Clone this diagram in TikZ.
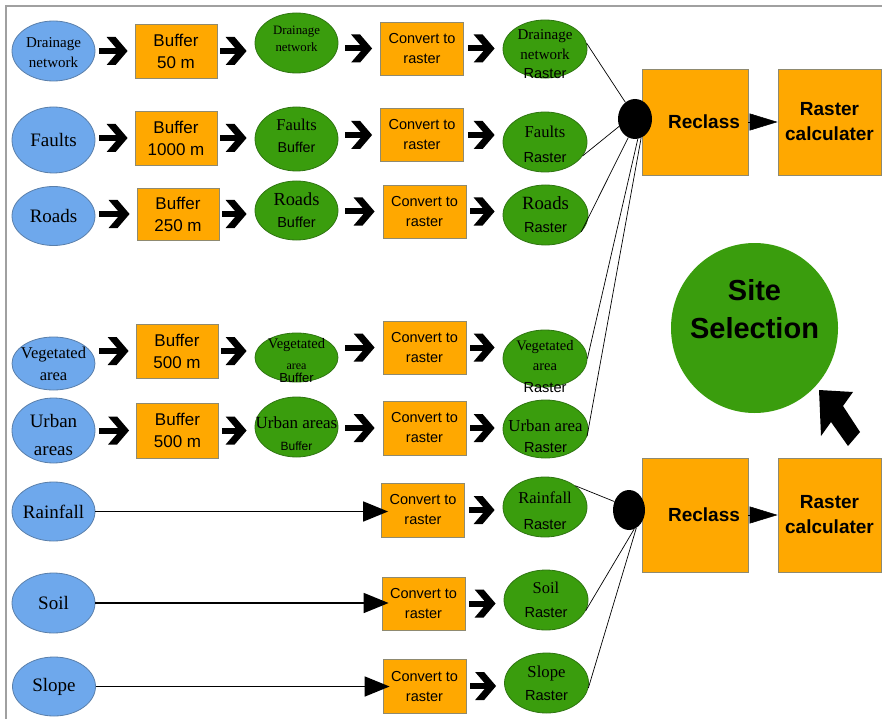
\documentclass[tikz,border=0pt]{standalone}
\usepackage{fontspec}
\setmainfont{Liberation Serif}
\setsansfont{Liberation Sans}
\usetikzlibrary{shapes.geometric,arrows.meta,calc}
\definecolor{bfill}{HTML}{6EA8EC}
\definecolor{bdraw}{HTML}{5A7FAA}
\definecolor{ofill}{HTML}{FFA800}
\definecolor{odraw}{HTML}{8F8A70}
\definecolor{gfill}{HTML}{3A9D0D}
\definecolor{gdraw}{HTML}{2F7512}
\definecolor{framecol}{HTML}{A0A0A0}
\newcommand\fs[2]{\fontsize{#1pt}{#2pt}\selectfont}
\begin{document}
\begin{tikzpicture}[x=1pt,y=-1pt,
 bell/.style={ellipse, draw=bdraw, line width=0.8pt, fill=bfill, minimum width=83pt, minimum height=60pt, inner sep=0pt},
 gell/.style={ellipse, draw=gdraw, line width=0.8pt, fill=gfill, minimum width=83pt, minimum height=60pt, inner sep=0pt},
 obox/.style={rectangle, draw=odraw, line width=0.8pt, fill=ofill, minimum width=82pt, minimum height=54pt, inner sep=0pt, align=center, font=\sffamily\fs{17}{22}},
 cbox/.style={obox, minimum width=83pt, minimum height=53pt, font=\sffamily\fs{14.5}{20}},
 bigbox/.style={rectangle, draw=odraw, line width=0.8pt, fill=ofill, inner sep=0pt, align=center, font=\sffamily\bfseries\fs{19}{25}},
 dot/.style={ellipse, fill=black, inner sep=0pt},
 txt/.style={align=center, inner sep=0pt, font=\rmfamily\fs{19}{22}},
 fat/.style={line width=6pt},
 chev/.pic={\fill (9,0) -- (-3,-14) -- (-12,-14) -- (0,0) -- (-12,14) -- (-3,14) -- cycle;},
 longarrow/.style={line width=1.6pt, -{Triangle[length=25pt,width=20pt]}},
 tri/.style={line width=0.5pt, -{Triangle[length=28pt,width=17pt]}},
 link/.style={line width=0.7pt},
]
\useasboundingbox (0,0) rectangle (882,719);
\draw[framecol, line width=1.5pt] (6,719) -- (6,6) -- (882,6);

% Row 1
\node[bell,label={[txt,yshift=-2pt,font=\rmfamily\fs{15}{20}]center:{Drainage\\network}}] (b1) at (53.5,51) {};
\node[obox] (k1) at (176,51) {Buffer\\50 m};
\node[gell,label={[txt,yshift=4.5pt,font=\rmfamily\fs{12.8}{17}]center:{Drainage\\network}}] (g1) at (296.5,43) {};
\node[cbox] (c1) at (422,48.5) {Convert to\\raster};
\node[gell,minimum width=84pt,minimum height=58pt,label={[txt,yshift=-5.5pt,font=\rmfamily\fs{15}{19.5}]center:{Drainage\\network\\{\sffamily\fs{14.6}{19.5}Raster}}}] (r1) at (545,49) {};

% Row 2
\node[bell,minimum height=66pt,label={[txt]center:{Faults}}] (b2) at (53.5,140) {};
\node[obox] (k2) at (176,138) {Buffer\\1000 m};
\node[gell,minimum height=64pt,label={[txt,yshift=3pt,font=\rmfamily\fs{16.5}{22}]center:{Faults\\{\sffamily\fs{14.3}{22}Buffer}}}] (g2) at (296.5,139) {};
\node[cbox] (c2) at (422,135) {Convert to\\raster};
\node[gell,minimum width=84pt,label={[txt,yshift=-2.5pt,font=\rmfamily\fs{16.6}{25}]center:{Faults\\{\sffamily\fs{14.6}{25}Raster}}}] (r2) at (545,142) {};

% Row 3
\node[bell,minimum height=59pt,label={[txt]center:{Roads}}] (b3) at (53.5,216) {};
\node[obox,minimum height=52pt] (k3) at (178,214) {Buffer\\250 m};
\node[gell,minimum height=59pt,label={[txt,font=\rmfamily\fs{18.4}{22}]center:{Roads\\{\sffamily\fs{14.5}{22}Buffer}}}] (g3) at (296.5,210.5) {};
\node[cbox] (c3) at (424.5,211.5) {Convert to\\raster};
\node[gell,minimum width=85pt,label={[txt,font=\rmfamily\fs{18.7}{23}]center:{Roads\\{\sffamily\fs{14.6}{23}Raster}}}] (r3) at (545.5,215) {};

% Row 4
\node[bell,minimum height=53pt,label={[txt,font=\rmfamily\fs{16.5}{22}]center:{Vegetated\\area}}] (b4) at (53.5,363.5) {};
\node[obox] (k4) at (177,351) {Buffer\\500 m};
\node[gell,minimum height=49pt,label={[txt,yshift=-3pt,font=\rmfamily\fs{14.5}{13}]center:{Vegetated\\[8pt]{\fs{12}{13}area}\\{\sffamily\fs{13}{13}Buffer}}}] (g4) at (296.5,357.5) {};
\node[cbox] (c4) at (424.5,347.5) {Convert to\\raster};
\node[gell,minimum width=84pt,minimum height=57pt,label={[txt,yshift=-8pt,font=\rmfamily\fs{14.5}{20}]center:{Vegetated\\area\\[2pt]{\sffamily\fs{14.6}{20}Raster}}}] (r4) at (545,358.5) {};

% Row 5
\node[bell,minimum height=65pt,label={[txt,yshift=-4pt,font=\rmfamily\fs{19}{28}]center:{Urban\\areas}}] (b5) at (53.5,430.5) {};
\node[obox,minimum height=55pt] (k5) at (177.5,430.5) {Buffer\\500 m};
\node[gell,label={[txt,yshift=-7pt,font=\rmfamily\fs{17}{22}]center:{Urban areas\\{\sffamily\fs{12}{22}Buffer}}}] (g5) at (296.5,427) {};
\node[cbox,minimum height=54pt] (c5) at (424.5,428) {Convert to\\raster};
\node[gell,minimum width=85pt,minimum height=58pt,label={[txt,yshift=-7.5pt,font=\rmfamily\fs{16.8}{21}]center:{Urban area\\{\sffamily\fs{14.6}{21}Raster}}}] (r5) at (545.5,429) {};

% Row 6
\node[bell,minimum height=59pt,label={[txt]center:{Rainfall}}] (b6) at (53.5,511.5) {};
\node[cbox,minimum height=54pt] (c6) at (423,510) {Convert to\\raster};
\node[gell,minimum width=84pt,label={[txt,yshift=-4pt,font=\rmfamily\fs{16.6}{26}]center:{Rainfall\\{\sffamily\fs{14.6}{26}Raster}}}] (r6) at (545,507) {};

% Row 7
\node[bell,label={[txt]center:{Soil}}] (b7) at (53.5,603) {};
\node[cbox] (c7) at (423.5,603.5) {Convert to\\raster};
\node[gell,minimum width=84pt,label={[txt,font=\rmfamily\fs{16.5}{24}]center:{Soil\\{\sffamily\fs{14.6}{24}Raster}}}] (r7) at (546,600) {};

% Row 8
\node[bell,minimum height=59pt,label={[txt]center:{Slope}}] (b8) at (54,686.5) {};
\node[cbox,minimum height=54pt] (c8) at (424.5,686) {Convert to\\raster};
\node[gell,minimum width=84pt,label={[txt,font=\rmfamily\fs{16.7}{23}]center:{Slope\\{\sffamily\fs{14.6}{23}Raster}}}] (r8) at (546.5,683) {};

% Right side
\node[bigbox,minimum width=106pt,minimum height=106pt] (rc1) at (695,122) {\hspace*{18pt}Reclass};
\node[bigbox,minimum width=103pt,minimum height=106pt] (cal1) at (829.5,122) {Raster\\calculater};
\node[bigbox,minimum width=106pt,minimum height=114pt] (rc2) at (695,515) {\hspace*{18pt}Reclass};
\node[bigbox,minimum width=103pt,minimum height=114pt] (cal2) at (829.5,515) {Raster\\calculater};
\node[gell,draw=none,minimum width=167pt,minimum height=170pt,label={[txt,yshift=19pt,font=\sffamily\bfseries\fs{29}{38}]center:{Site\\Selection}}] (site) at (754.5,328) {};

% fat arrows
\foreach \i in {1,...,5}{
  \draw[fat] ($(b\i.east |- k\i.west)+(4,0)$) -- ($(k\i.west)+(-16,0)$) pic{chev};
  \draw[fat] ($(k\i.east)+(3,0)$) -- ($(k\i.east -| g\i.west)+(-17,0)$) pic{chev};
  \draw[fat] ($(g\i.east |- c\i.west)+(7,0)$) -- ($(c\i.west)+(-17,0)$) pic{chev};
  \draw[fat] ($(c\i.east)+(4,0)$) -- ($(c\i.east -| r\i.west)+(-17,0)$) pic{chev};
}
\foreach \i in {6,7,8}{
  \draw[fat] ($(c\i.east)+(4,0)$) -- ($(c\i.east -| r\i.west)+(-17,0)$) pic{chev};
  \draw[longarrow] (b\i.east) -- ($(b\i.east -| c\i.west)+(7,0)$);
}

% dots
\node[dot,minimum width=34pt,minimum height=40pt] (d1) at (635,119) {};
\node[dot,minimum width=32pt,minimum height=40pt] (d2) at (629,510) {};

% links to dots
\draw[link] (r1.8) -- (d1.120);
\draw[link] (r2.-20) -- (d1.-155);
\draw[link] (r3.-25) -- (d1.-110);
\draw[link] (r4.east) -- (d1.-82);
\draw[link] (r5.-10) -- (d1.-72);
\draw[link] (r6.35) -- (d2.150);
\draw[link] (r7.-15) -- (d2.-75);
\draw[link] (r8.-7) -- (d2.-68);

% reclass -> calculator
\draw[tri] (rc1.east) -- (cal1.west);
\draw[tri] (rc2.east) -- (cal2.west);

% big arrow to site selection
\fill[black] (819,390) -- (853,392) -- (843,406) -- (860,432) -- (848,446) -- (831,422) -- (821,436) -- cycle;
\end{tikzpicture}
\end{document}
